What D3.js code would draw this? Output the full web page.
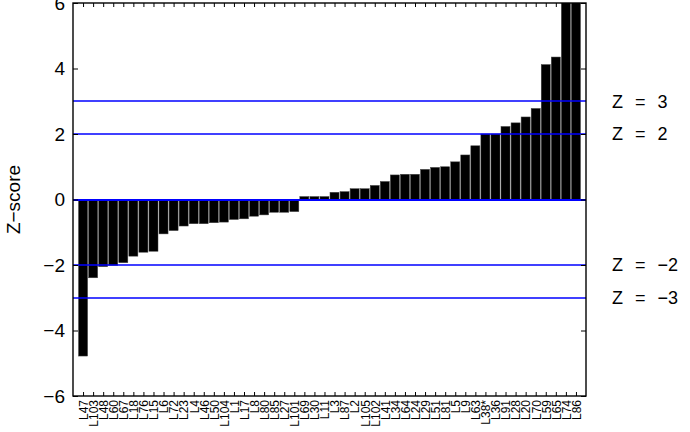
<!DOCTYPE html>
<html>
<head>
<meta charset="utf-8">
<script src="https://cdn.jsdelivr.net/npm/d3@7"></script>
<style>
  body { margin: 0; background: #fff; }
  svg { display: block; font-family: "Liberation Sans", Arial, sans-serif; }
</style>
</head>
<body>
<div id="chart"></div>
<script>
// loci labels, sorted by z-score
var labels = ["L47", "L103", "L48", "L60", "L67", "L18", "L76", "L15", "L6", "L72",
  "L23", "L4", "L46", "L50", "L104", "L1", "L17", "L8", "L80", "L85",
  "L27", "L101", "L69", "L30", "L11", "L3", "L87", "L2", "L105", "L102",
  "L41", "L34", "L64", "L24", "L29", "L51", "L81", "L5", "L9", "L63",
  "L38*", "L36", "L91", "L28", "L20", "L70", "L59", "L65", "L74", "L86"];
var zscores = [-4.78, -2.39, -2.05, -2.01, -1.93, -1.73, -1.61, -1.58, -1.05, -0.95,
  -0.81, -0.74, -0.74, -0.71, -0.69, -0.61, -0.59, -0.51, -0.47, -0.39,
  -0.39, -0.37, 0.09, 0.09, 0.09, 0.22, 0.24, 0.33, 0.33, 0.43,
  0.55, 0.75, 0.77, 0.77, 0.92, 0.98, 1.00, 1.15, 1.36, 1.64,
  2.00, 2.00, 2.23, 2.34, 2.52, 2.78, 4.12, 4.35, 6.6, 7.5];
var yTicks = [-6, -4, -2, 0, 2, 4, 6];
var thresholds = [3, 2, 0, -2, -3];
var thresholdLabels = [3, 2, -2, -3];

var width = 690, height = 432;
var margin = { left: 73, right: 104, top: 3, bottom: 36 };
var x0 = margin.left, x1 = width - margin.right;
var y0 = margin.top, y1 = height - margin.bottom;

var svg = d3.select("#chart").append("svg").attr("width", width).attr("height", height);

var x = d3.scaleLinear().domain([0, labels.length + 1]).range([x0, x1]);
var y = d3.scaleLinear().domain([-6, 6]).range([y1, y0]);
var barW = 0.9;
var minus = d => d < 0 ? "\u2212" + (-d) : "" + d;

svg.append("clipPath").attr("id", "clip")
  .append("rect").attr("x", x0).attr("y", y0).attr("width", x1 - x0).attr("height", y1 - y0);

// bars
svg.append("g").attr("clip-path", "url(#clip)")
  .selectAll("rect")
  .data(zscores)
  .enter()
  .append("rect")
  .attr("x", (d, i) => x(i + 1 - barW / 2))
  .attr("width", x(barW) - x(0))
  .attr("y", d => y(Math.max(0, d)))
  .attr("height", d => Math.abs(y(d) - y(0)))
  .attr("fill", "#000")
  .attr("stroke", "#444")
  .attr("stroke-width", 0.5);

// threshold lines (z = 0 drawn a bit heavier)
svg.append("g").selectAll("line")
  .data(thresholds)
  .enter()
  .append("line")
  .attr("x1", x0).attr("x2", x1)
  .attr("y1", d => Math.round(y(d)))
  .attr("y2", d => Math.round(y(d)))
  .attr("stroke", "#0000ff")
  .attr("stroke-width", d => d == 0 ? 2.2 : 1.6);

svg.append("g").selectAll("text")
  .data(thresholdLabels)
  .enter()
  .append("text")
  .attr("x", 612)
  .attr("y", d => y(d))
  .attr("dy", "0.35em")
  .attr("font-size", 18)
  .attr("word-spacing", 7)
  .text(d => "Z = " + minus(d));

// axes: box with inward ticks on all sides
var tickLen = 5;
var axisLeft = d3.axisLeft(y).tickValues(yTicks).tickSizeInner(-tickLen).tickSizeOuter(0)
  .tickPadding(8).tickFormat(minus);
var gl = svg.append("g").attr("transform", "translate(" + x0 + ",0)").call(axisLeft);
gl.selectAll("text").attr("font-size", 19).attr("fill", "#000");

var axisRight = d3.axisRight(y).tickValues(yTicks).tickSizeInner(-tickLen).tickSizeOuter(0).tickFormat("");
svg.append("g").attr("transform", "translate(" + x1 + ",0)").call(axisRight);

var ticks = d3.range(1, labels.length + 1);
var axisBottom = d3.axisBottom(x).tickValues(ticks).tickSizeInner(-4).tickSizeOuter(0)
  .tickFormat((d, i) => labels[i]);
var gb = svg.append("g").attr("transform", "translate(0," + y1 + ")").call(axisBottom);
gb.selectAll("text")
  .attr("font-size", 12)
  .attr("fill", "#000")
  .attr("text-anchor", "end")
  .attr("transform", "rotate(-90)")
  .attr("x", -4).attr("y", 0).attr("dy", "0.36em");

var axisTop = d3.axisTop(x).tickValues(ticks).tickSizeInner(-4).tickSizeOuter(0).tickFormat("");
svg.append("g").attr("transform", "translate(0," + y0 + ")").call(axisTop);

svg.selectAll(".domain").remove();
svg.selectAll(".tick line").attr("stroke", "#000");
svg.append("rect")
  .attr("x", x0).attr("y", y0).attr("width", x1 - x0).attr("height", y1 - y0)
  .attr("fill", "none").attr("stroke", "#000").attr("stroke-width", 1.4);

// y label
svg.append("text")
  .attr("transform", "translate(13," + y(0) + ") rotate(-90)")
  .attr("text-anchor", "middle")
  .attr("dy", "0.35em")
  .attr("font-size", 19)
  .text("Z\u2212score");
</script>
</body>
</html>
